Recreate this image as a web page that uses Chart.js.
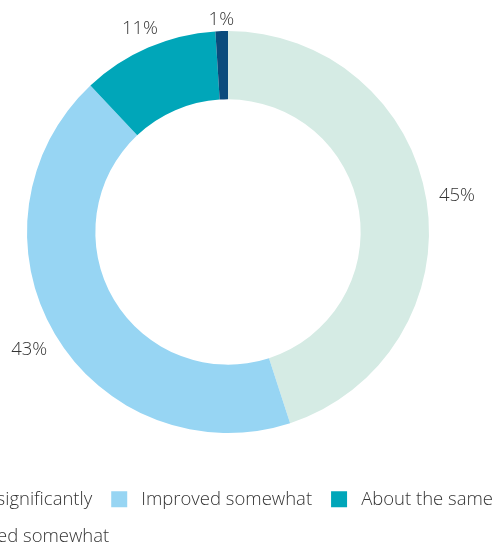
<!DOCTYPE html>
<html>
<head>
<meta charset="utf-8">
<script src="https://cdn.jsdelivr.net/npm/chart.js@4/dist/chart.umd.min.js"></script>
<style>
  html, body { margin: 0; padding: 0; background: #fff; overflow: hidden; }
  body { width: 499px; height: 547px; position: relative; }
  #wrap { position: absolute; left: -137.5px; top: -27px; width: 730px; height: 583px; }
</style>
</head>
<body>
<div id="wrap"><canvas id="shareChart"></canvas></div>
<script>
const categories = ["Improved significantly", "Improved somewhat", "About the same", "Deteriorated somewhat"];
const shares = [45, 43, 11, 1];
const sliceColors = ["#d5ebe4", "#97d5f3", "#00a6b9", "#0a4b7c"];

const textColor = "#353535";
const fontFamily = '"Open Sans", "Noto Sans", sans-serif';

// percentage labels just outside each slice
const sliceLabels = {
  id: "sliceLabels",
  afterDatasetsDraw(chart) {
    const ctx = chart.ctx;
    const meta = chart.getDatasetMeta(0);
    ctx.save();
    ctx.font = "300 18.5px " + fontFamily;
    ctx.fillStyle = textColor;
    ctx.textAlign = "center";
    ctx.textBaseline = "middle";
    meta.data.forEach((arc, i) => {
      const p = arc.getProps(["x", "y", "startAngle", "endAngle", "outerRadius"], true);
      const mid = (p.startAngle + p.endAngle) / 2;
      const text = shares[i] + "%";
      const w = ctx.measureText(text).width;
      const h = 14;
      const c = Math.cos(mid), s = Math.sin(mid);
      const r = p.outerRadius + 4 + Math.abs(c) * (w / 2 + 8) + Math.abs(s) * h / 2;
      ctx.fillText(text, p.x + c * r, p.y + s * r);
    });
    ctx.restore();
  }
};

const baseLabels = Chart.overrides.doughnut.plugins.legend.labels.generateLabels;

new Chart(document.getElementById("shareChart"), {
  type: "doughnut",
  data: {
    labels: categories,
    datasets: [{
      data: shares,
      backgroundColor: sliceColors,
      borderWidth: 0,
      hoverOffset: 0
    }]
  },
  options: {
    responsive: true,
    maintainAspectRatio: false,
    animation: false,
    radius: 201,
    cutout: "66%",
    layout: { padding: { top: 20 } },
    plugins: {
      tooltip: { enabled: false },
      legend: {
        position: "bottom",
        align: "start",
        labels: {
          boxWidth: 16,
          boxHeight: 16,
          padding: 19,
          color: textColor,
          font: { family: fontFamily, size: 18.5, weight: "300" },
          generateLabels(chart) {
            const items = baseLabels(chart);
            items.forEach(it => { it.text = " " + it.text; });
            return items;
          }
        }
      }
    }
  },
  plugins: [sliceLabels]
});
</script>
</body>
</html>
